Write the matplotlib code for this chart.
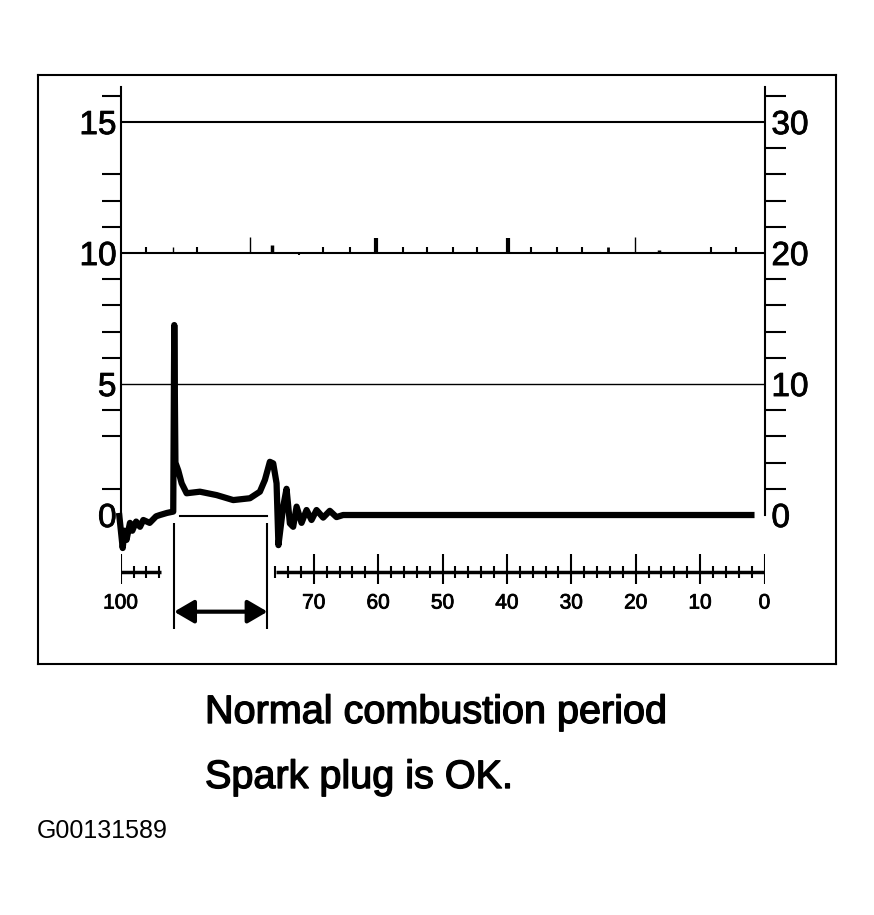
#Scope trace of a spark plug firing line, redrawn with matplotlib

#Importing the required libraries
import matplotlib.pyplot as plt
import matplotlib.patheffects as pe

plt.rcParams['font.family'] = ['Liberation Sans', 'DejaVu Sans']

#Trace: crank angle (deg) and voltage (left scale, kV)
trace_deg = [100.26, 99.69, 99.4, 99.1, 98.56, 98.2, 97.6, 97.0, 96.49, 95.5, 94.5, 93.9,
             92.8, 91.84, 91.68, 91.5, 91.06, 90.53, 89.76, 87.69, 85.1, 82.52, 79.93,
             78.38, 77.6, 76.83, 76.31, 75.79, 75.5, 74.76, 74.24, 73.72, 73.21, 72.68,
             71.91, 71.13, 70.36, 69.58, 68.55, 67.52, 66.48, 65.45, 1.55]
trace_val = [0.08, -1.26, -0.6, -0.95, -0.3, -0.6, -0.25, -0.45, -0.19, -0.3, -0.05, 0.0,
             0.08, 0.13, 7.25, 2.0, 1.7, 1.21, 0.83, 0.89, 0.76, 0.57, 0.64,
             0.89, 1.34, 2.03, 1.97, 1.21, -1.15, 0.32, 1.0, -0.32, -0.45, 0.32,
             -0.3, 0.19, -0.19, 0.19, -0.1, 0.16, -0.08, 0.0, 0.0]

#Combustion period window (start and end angle)
burn_start = 91.7
burn_end = 77.2

#Little marks sitting on the 10 kV line
mark_deg = [99.7, 96.1, 91.9, 88.2, 79.9, 76.5, 72.3, 68.6, 64.4, 60.3, 56.2, 52.4,
            48.4, 44.6, 39.9, 36.3, 32.2, 28.3, 24.3, 20.1, 16.4, 8.3, 4.4]
mark_h = [0.05, 0.23, 0.23, 0.23, 0.6, 0.3, -0.08, 0.23, 0.23, 0.58, 0.23, 0.23,
          0.23, 0.23, 0.58, 0.23, 0.23, 0.23, 0.23, 0.6, 0.12, 0.23, 0.23]
mark_lw = [1.5, 1.5, 1.0, 1.5, 1.0, 2.5, 1.5, 1.5, 1.5, 3.0, 1.5, 1.5,
           1.5, 1.5, 3.0, 1.5, 1.5, 1.5, 2.0, 1.0, 2.5, 1.5, 1.5]

#Axis ticks and labels
left_labels = [0, 5, 10, 15]
left_minor = [1, 3, 4, 6, 7, 8, 9, 11, 12, 13, 16]
right_labels = [0, 10, 20, 30]
right_minor = [2, 4, 6, 8, 12, 14, 16, 18, 22, 24, 26, 28, 32]
grid_vals = [15, 10, 5]
grid_lw = [1.5, 1.5, 1.0]

#Crank angle scale under the trace (two pieces)
scale_pieces = [(100, 93.7), (75.9, 0)]
scale_major = [100, 70, 60, 50, 40, 30, 20, 10, 0]
scale_minor = [98, 96, 94, 76, 74, 72, 68, 66, 64, 62, 58, 56, 54, 52, 48, 46, 44, 42,
               38, 36, 34, 32, 28, 26, 24, 22, 18, 16, 14, 12, 8, 6, 4, 2]
scale_y = -2.18

fig = plt.figure(figsize=(8.74, 9.15), dpi=100)
W = 874.0
H = 915.0
thick = [pe.withStroke(linewidth=1.0, foreground='black')]
semi = [pe.withStroke(linewidth=0.6, foreground='black')]

#Outer box
box = fig.add_axes([38 / W, 1 - 664 / H, (836 - 38) / W, (664 - 75) / H])
box.set_xticks([])
box.set_yticks([])
for s in box.spines.values():
    s.set_linewidth(1.5)

#Main scope axes
y_lo = -4.5
y_hi = 16.33
ax = fig.add_axes([120.7 / W, 1 - 632.9 / H, (764.5 - 120.7) / W, (632.9 - 87.2) / H])
ax.patch.set_alpha(0)
ax.set_xlim(100, 0)
ax.set_ylim(y_lo, y_hi)
ax.spines['top'].set_visible(False)
ax.spines['bottom'].set_visible(False)
ax.spines['left'].set_bounds(0, y_hi)
ax.spines['right'].set_bounds(0, y_hi)
ax.spines['left'].set_linewidth(1.5)
ax.spines['right'].set_linewidth(1.5)
ax.set_xticks([])

ax.set_yticks(left_labels)
ax.set_yticklabels([str(v) for v in left_labels], fontsize=24)
ax.set_yticks(left_minor, minor=True)
ax.tick_params(axis='y', which='major', length=0, pad=3)
ax.tick_params(axis='y', which='minor', length=13.5, width=1.5, direction='out')

sec = ax.secondary_yaxis('right', functions=(lambda v: v * 2, lambda v: v / 2))
sec.spines['right'].set_visible(False)
sec.set_yticks(right_labels)
sec.set_yticklabels([str(v) for v in right_labels], fontsize=24)
sec.set_yticks(right_minor, minor=True)
sec.tick_params(axis='y', which='major', length=0, pad=5)
sec.tick_params(axis='y', which='minor', length=15, width=1.5, direction='out')

for lab in ax.get_yticklabels() + sec.get_yticklabels():
    lab.set_path_effects(semi)

#Grid lines
for g, lw in zip(grid_vals, grid_lw):
    ax.axhline(g, color='black', linewidth=lw)

#Marks on the 10 kV line
for d, h, lw in zip(mark_deg, mark_h, mark_lw):
    ax.vlines(d, 10, 10 + h, color='black', linewidth=lw)

#The trace
ax.plot(trace_deg, trace_val, color='black', linewidth=4.5, solid_joinstyle='round',
        solid_capstyle='butt', clip_on=False, zorder=5)

#Combustion period: baseline, brackets and double arrow
ax.plot([burn_start - 0.9, burn_end], [-0.04, -0.04], color='black', linewidth=1.5)
ax.vlines([burn_start, burn_end], -4.35, -0.3, color='black', linewidth=1.5)
ax.annotate('', xy=(burn_end, -3.69), xytext=(burn_start, -3.69),
            arrowprops=dict(arrowstyle='<|-|>,head_length=0.6,head_width=0.35',
                            color='black', lw=3, shrinkA=0, shrinkB=0,
                            mutation_scale=20))

#Crank angle scale
for a, b in scale_pieces:
    ax.plot([a, b], [scale_y, scale_y], color='black', linewidth=2.5, solid_capstyle='butt')
ax.vlines(scale_major, scale_y - 0.45, scale_y + 0.68, color='black', linewidth=1.5)
ax.vlines(scale_minor, scale_y - 0.23, scale_y + 0.23, color='black', linewidth=1.5)
for d in scale_major:
    ax.text(d, -3.36, str(d), fontsize=15, ha='center', va='center', path_effects=semi)

#Captions
fig.text(205 / W, 1 - 723 / H, 'Normal combustion period', fontsize=28.5,
         va='baseline', path_effects=thick)
fig.text(205 / W, 1 - 788 / H, 'Spark plug is OK.', fontsize=28.5,
         va='baseline', path_effects=thick)
fig.text(37 / W, 1 - 837.7 / H, 'G00131589', fontsize=18, va='baseline')

#Saving the figure
plt.savefig('out.png', dpi=100)
